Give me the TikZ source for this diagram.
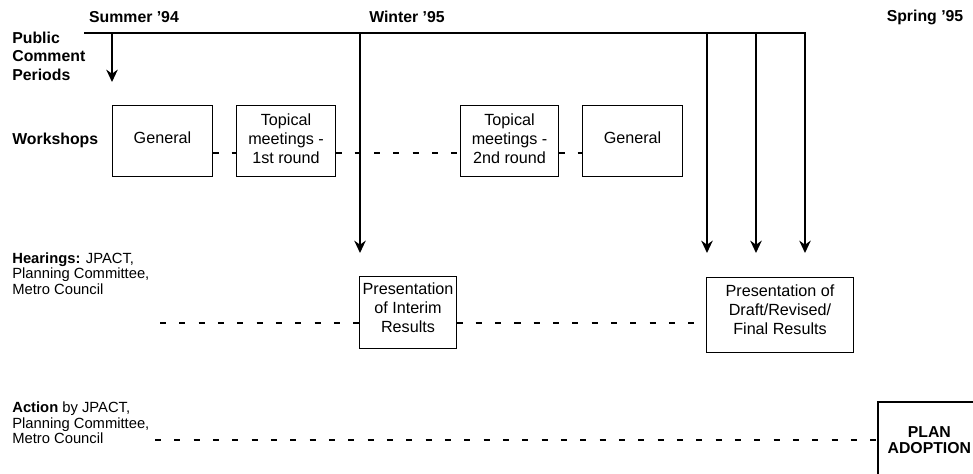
\documentclass[tikz,border=0pt]{standalone}
\usepackage{fontspec}
\setmainfont{Liberation Sans}
\usetikzlibrary{arrows.meta, positioning}

\begin{document}
\begin{tikzpicture}[
  >={Stealth[length=7pt, width=6.5pt]},
  ttl/.style={font=\fontsize{9}{10.5}\selectfont\bfseries, inner sep=0pt},
  lbl/.style={font=\fontsize{8.4}{8.8}\selectfont, align=left, inner sep=0pt},
  box/.style={align=center, inner sep=0pt, font=\fontsize{9.2}{10.8}\selectfont},
  boxline/.style={line width=0.9pt},
  tline/.style={line width=1.6pt},
  dashline/.style={line width=0.8pt, dash pattern=on 3.5pt off 7.5pt},
]
\useasboundingbox (0,0) rectangle (19.46,9.46);
\clip (0,0) rectangle (19.46,9.46);

% ================================ timeline ==================================
\node[ttl] (summer) at (2.68,9.12) {Summer '94};
\node[ttl] (winter) at (8.14,9.12) {Winter '95};
\node[ttl] (spring) at (18.50,9.12) {Spring '95};

\node[ttl, anchor=west, align=left] (public) at (0.24,8.34)
  {Public\\Comment\\Periods};

\coordinate (t0) at (1.70,8.80);
\coordinate (t1) at (16.10,8.80);

% ================================ workshops =================================
% The text of each box sits a little above the middle, so the frames are
% drawn afterwards, moved down by \s.
\node[ttl, anchor=west] (work) at (0.24,6.66) {Workshops};

\node[box, minimum width=1.98cm, minimum height=1.40cm] (gen1) at (3.25,6.70) {General};
\node[box, minimum width=1.96cm, minimum height=1.40cm] (top1) at (5.72,6.69)
  {Topical\\meetings -\\1st round};
\node[box, minimum width=1.94cm, minimum height=1.40cm] (top2) at (10.19,6.69)
  {Topical\\meetings -\\2nd round};
\node[box, minimum width=1.98cm, minimum height=1.40cm] (gen2) at (12.65,6.70) {General};

\coordinate (wrow) at (0,6.40);
\draw[dashline] (gen1.east |- wrow) -- (top1.west |- wrow);
\draw[dashline] (top1.east |- wrow) -- (top2.west |- wrow);
\draw[dashline] (top2.east |- wrow) -- (gen2.west |- wrow);

% ================================= hearings =================================
\node[lbl, anchor=west] (hear) at (0.24,3.99)
  {\textbf{Hearings:} JPACT,\\Planning Committee,\\Metro Council};

\node[box, minimum width=1.92cm, minimum height=1.42cm] (interim) at (8.16,3.31)
  {Presentation\\of Interim\\Results};
\node[box, minimum width=2.92cm, minimum height=1.48cm] (draft) at (15.60,3.27)
  {Presentation of\\Draft/Revised/\\Final Results};

\coordinate (hrow) at (3.20,3.00);
\draw[dashline] (hrow) -- (hrow -| interim.west);
\draw[dashline] (interim.east |- hrow) -- (hrow -| draft.west);

% ================================== action ==================================
\node[lbl, anchor=west] (action) at (0.24,1.00)
  {\textbf{Action} by JPACT,\\Planning Committee,\\Metro Council};

% the box runs on past the page edge, as in the scan
\node[box, font=\fontsize{9}{9}\selectfont\bfseries, anchor=north west,
      minimum width=2.04cm, minimum height=1.60cm] (adopt) at (17.56,1.46)
  {PLAN\\ADOPTION};

\coordinate (arow) at (3.10,0.66);
\draw[dashline] (arow) -- (arow -| adopt.west);

\foreach \b/\s in {gen1/0.06, top1/0.05, top2/0.05, gen2/0.06,
                   interim/0.10, draft/0.11, adopt/0.04}
  \draw[boxline] ([yshift=-\s cm]\b.south west) rectangle ([yshift=-\s cm]\b.north east);

% --- timeline and its arrows go on last, over the dashes ---
\draw[tline, line cap=rect] (t0) -- (t1);
\foreach \n/\x/\y in {a1/2.24/7.82, a2/7.20/4.40, a3/14.14/4.40,
                      a4/15.12/4.40, a5/16.10/4.40} {
  \coordinate (\n s) at (\x,8.80);
  \coordinate (\n e) at (\x,\y);
  \draw[tline, ->] (\n s) -- (\n e);
}
\end{tikzpicture}
\end{document}
